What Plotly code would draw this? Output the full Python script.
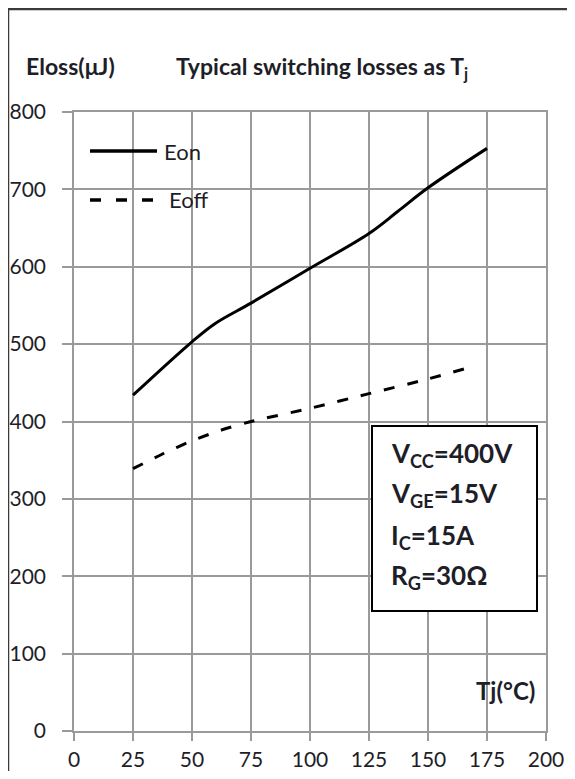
import plotly.graph_objects as go

# Data
tj_on = [25, 50, 60, 75, 100, 125, 137, 150, 175]
eon = [434, 503, 527, 553, 598, 643, 671, 702, 753]

tj_off = [25, 37.5, 50, 62.5, 75, 100, 125, 150, 170]
eoff = [339, 358, 375, 389, 400, 417, 436, 455, 472]

x_ticks = [0, 25, 50, 75, 100, 125, 150, 175, 200]
y_ticks = [0, 100, 200, 300, 400, 500, 600, 700, 800]

cond_lines = ["V<sub>CC</sub>=400V", "V<sub>GE</sub>=15V", "I<sub>C</sub>=15A", "R<sub>G</sub>=30Ω"]

FONT = "Lato"
TXT = "#1e1e28"
GRID = "#9a9a9a"

fig = go.Figure()
fig.add_trace(go.Scatter(x=tj_on, y=eon, mode="lines", name="Eon",
                         line=dict(color="black", width=3, shape="spline", smoothing=1.0),
                         showlegend=False))
fig.add_trace(go.Scatter(x=tj_off, y=eoff, mode="lines", name="Eoff",
                         line=dict(color="black", width=3, dash="11px,13px", shape="spline", smoothing=0.8),
                         showlegend=False))

# page offset from default body margin
OFF = 8
W, H = 575 - 2 * OFF, 779 - 2 * OFF
PL, PR, PT, PB = 74, 546, 112, 731  # plot area in page pixels
L = PL - OFF
T = PT - OFF
R = W - (PR - OFF)
B = H - (PB - OFF)
pw, ph = PR - PL, PB - PT

def px(x):
    return (x - PL) / pw

def py(y):
    return (PB - y) / ph

fig.update_layout(
    width=W, height=H,
    margin=dict(l=L, r=R, t=T, b=B, autoexpand=False),
    paper_bgcolor="white", plot_bgcolor="white",
    font=dict(family=FONT, size=20, color=TXT),
    xaxis=dict(range=[0, 200], tickvals=x_ticks, ticktext=[str(v) for v in x_ticks],
               showgrid=True, gridcolor=GRID, gridwidth=1.5,
               showline=True, linecolor=GRID, linewidth=1.5, mirror=True,
               ticks="outside", ticklen=8, tickcolor=GRID, tickwidth=1.5,
               ticklabelstandoff=1, zeroline=False, fixedrange=True,
               tickfont=dict(family=FONT, size=21, color=TXT)),
    yaxis=dict(range=[0, 800], tickvals=y_ticks, ticktext=[str(v) for v in y_ticks],
               showgrid=True, gridcolor=GRID, gridwidth=1.5,
               showline=True, linecolor=GRID, linewidth=1.5, mirror=True,
               ticks="outside", ticklen=10, tickcolor=GRID, tickwidth=1.5,
               ticklabelstandoff=12, zeroline=False, fixedrange=True,
               tickfont=dict(family=FONT, size=21, color=TXT)),
)

shapes = []
# outer frame of the figure image
shapes.append(dict(type="rect", xref="paper", yref="paper",
                   x0=px(OFF), x1=px(600), y0=py(9), y1=py(820),
                   line=dict(color="#3a3a3a", width=2.5), fillcolor="rgba(0,0,0,0)", layer="below"))
# legend samples
shapes.append(dict(type="line", xref="paper", yref="paper",
                   x0=px(90), x1=px(157), y0=py(151), y1=py(151),
                   line=dict(color="black", width=3.5)))
shapes.append(dict(type="line", xref="paper", yref="paper",
                   x0=px(90), x1=px(157), y0=py(200), y1=py(200),
                   line=dict(color="black", width=3.5, dash="11px,15px")))
# conditions box
shapes.append(dict(type="rect", xref="paper", yref="paper",
                   x0=px(372), x1=px(537), y0=py(611), y1=py(426),
                   line=dict(color="black", width=2), fillcolor="white"))
fig.update_layout(shapes=shapes)

ann = []
ann.append(dict(text="<b>Eloss(μJ)</b>", xref="paper", yref="paper", x=px(24), y=py(66),
                xanchor="left", yanchor="middle", showarrow=False,
                font=dict(family=FONT, size=23, color=TXT)))
ann.append(dict(text="<b>Typical switching losses as T<sub>j</sub></b>", xref="paper", yref="paper",
                x=px(174), y=py(67), xanchor="left", yanchor="middle", showarrow=False,
                font=dict(family=FONT, size=23, color=TXT)))
ann.append(dict(text="Eon", xref="paper", yref="paper", x=px(162), y=py(151),
                xanchor="left", yanchor="middle", showarrow=False,
                font=dict(family=FONT, size=22, color=TXT)))
ann.append(dict(text="Eoff", xref="paper", yref="paper", x=px(167), y=py(200),
                xanchor="left", yanchor="middle", showarrow=False,
                font=dict(family=FONT, size=22, color=TXT)))
ann.append(dict(text="<b>Tj(°C)</b>", xref="paper", yref="paper", x=px(537), y=py(690),
                xanchor="right", yanchor="middle", showarrow=False,
                font=dict(family=FONT, size=24, color=TXT)))
centers = [454, 494, 536, 576]
for t, c in zip(cond_lines, centers):
    ann.append(dict(text="<b>" + t + "</b>", xref="paper", yref="paper", x=px(389), y=py(c),
                    xanchor="left", yanchor="middle", showarrow=False,
                    font=dict(family=FONT, size=26, color=TXT)))
fig.update_layout(annotations=ann)

fig.write_html("out.html")
